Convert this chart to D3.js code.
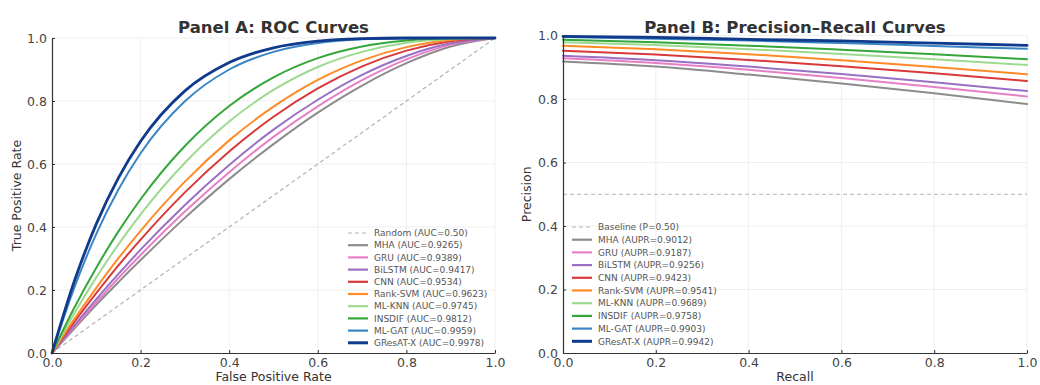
<!DOCTYPE html>
<html>
<head>
<meta charset="utf-8">
<script src="https://cdn.jsdelivr.net/npm/d3@7"></script>
<style>
  body { margin: 0; background: #fff; }
  svg text { font-family: "DejaVu Sans", sans-serif; }
  .tick text { fill: #444; font-size: 12.5px; }
  .tick line { stroke: #333; }
  .domain { stroke: #333; stroke-width: 1.2; }
  .grid line { stroke: #ebebeb; stroke-width: 0.8; }
</style>
</head>
<body>
<div id="chart"></div>
<script>
var models = ["MHA", "GRU", "BiLSTM", "CNN", "Rank-SVM", "ML-KNN", "INSDIF", "ML-GAT", "GResAT-X"]
var aucValues = ["0.9265", "0.9389", "0.9417", "0.9534", "0.9623", "0.9745", "0.9812", "0.9959", "0.9978"]
var auprValues = ["0.9012", "0.9187", "0.9256", "0.9423", "0.9541", "0.9689", "0.9758", "0.9903", "0.9942"]
var axisTicks = [0, 0.2, 0.4, 0.6, 0.8, 1.0]

// ROC points
var rocFpr = [0, 0.05, 0.1, 0.15, 0.2, 0.3, 0.4, 0.5, 0.6, 0.7, 0.8, 0.9, 1.0]
var rocMHA = [0, 0.077, 0.153, 0.225, 0.295, 0.429, 0.552, 0.663, 0.763, 0.849, 0.920, 0.973, 1]
var rocGRU = [0, 0.082, 0.161, 0.238, 0.311, 0.449, 0.574, 0.686, 0.783, 0.866, 0.932, 0.979, 1]
var rocBiLSTM = [0, 0.087, 0.171, 0.251, 0.328, 0.470, 0.597, 0.709, 0.804, 0.883, 0.943, 0.983, 1]
var rocCNN = [0, 0.098, 0.190, 0.278, 0.360, 0.510, 0.640, 0.750, 0.840, 0.910, 0.960, 0.990, 1]
var rocRankSVM = [0, 0.107, 0.207, 0.301, 0.388, 0.544, 0.675, 0.782, 0.867, 0.929, 0.971, 0.994, 1]
var rocMLKNN = [0, 0.125, 0.240, 0.345, 0.440, 0.604, 0.735, 0.835, 0.908, 0.956, 0.985, 0.997, 1]
var rocINSDIF = [0, 0.143, 0.271, 0.386, 0.488, 0.657, 0.784, 0.875, 0.936, 0.973, 0.992, 0.999, 1]
var rocMLGAT = [0, 0.206, 0.378, 0.519, 0.634, 0.799, 0.900, 0.956, 0.984, 0.996, 0.999, 1, 1]
var rocGResATX = [0, 0.226, 0.410, 0.556, 0.672, 0.832, 0.922, 0.969, 0.990, 0.998, 1, 1, 1]

// precision-recall points
var prRecall = [0, 0.2, 0.4, 0.6, 0.8, 1.0]
var prMHA = [0.918, 0.902, 0.877, 0.849, 0.818, 0.784]
var prGRU = [0.928, 0.913, 0.892, 0.866, 0.838, 0.808]
var prBiLSTM = [0.936, 0.922, 0.902, 0.879, 0.853, 0.825]
var prCNN = [0.952, 0.940, 0.923, 0.903, 0.881, 0.857]
var prRankSVM = [0.968, 0.957, 0.941, 0.922, 0.901, 0.878]
var prMLKNN = [0.979, 0.970, 0.957, 0.942, 0.925, 0.907]
var prINSDIF = [0.987, 0.979, 0.968, 0.955, 0.941, 0.925]
var prMLGAT = [0.995, 0.990, 0.984, 0.976, 0.967, 0.958]
var prGResATX = [0.997, 0.994, 0.988, 0.983, 0.976, 0.969]
var prBaseline = 0.5

var rocSeries = [rocMHA, rocGRU, rocBiLSTM, rocCNN, rocRankSVM, rocMLKNN, rocINSDIF, rocMLGAT, rocGResATX]
var prSeries = [prMHA, prGRU, prBiLSTM, prCNN, prRankSVM, prMLKNN, prINSDIF, prMLGAT, prGResATX]

var colors = ["#8c8c8c", "#e77fc6", "#9a70c4", "#d8393a", "#ff8a26", "#9dd98f", "#35a63a", "#3a86c4", "#103a8c"]
var widths = [2, 2, 2, 2, 2, 2, 2, 2, 2.8]

var W = 1040, H = 385

var svg = d3.select("#chart").append("svg")
  .attr("width", W)
  .attr("height", H)

function drawPanel(opts){
  var x = d3.scaleLinear().domain([0, 1]).range([opts.left, opts.right])
  var y = d3.scaleLinear().domain([0, 1]).range([opts.bottom, opts.top])
  var g = svg.append("g")

  // grid
  var grid = g.append("g").attr("class", "grid")
  grid.selectAll(".gx").data(axisTicks.slice(1)).enter().append("line")
    .attr("x1", function(d){ return x(d) }).attr("x2", function(d){ return x(d) })
    .attr("y1", y(0)).attr("y2", y(1))
  grid.selectAll(".gy").data(axisTicks.slice(1)).enter().append("line")
    .attr("x1", x(0)).attr("x2", x(1))
    .attr("y1", function(d){ return y(d) }).attr("y2", function(d){ return y(d) })

  // reference dashed line
  g.append("path")
    .attr("d", d3.line()(opts.refLine.map(function(p){ return [x(p[0]), y(p[1])] })))
    .attr("fill", "none")
    .attr("stroke", "#b3b3b3")
    .attr("stroke-width", 1.2)
    .attr("stroke-dasharray", "4,3")

  var line = d3.line()
    .x(function(d){ return x(d[0]) })
    .y(function(d){ return y(d[1]) })
    .curve(d3.curveMonotoneX)

  opts.series.forEach(function(vals, i){
    g.append("path")
      .attr("d", line(opts.xs.map(function(v, j){ return [v, vals[j]] })))
      .attr("fill", "none")
      .attr("stroke", colors[i])
      .attr("stroke-width", widths[i])
      .attr("stroke-linecap", "round")
  })

  g.append("g")
    .attr("transform", "translate(0," + y(0) + ")")
    .call(d3.axisBottom(x).tickValues(axisTicks).tickFormat(d3.format(".1f")).tickSizeInner(-3).tickSizeOuter(0).tickPadding(5))
  g.append("g")
    .attr("transform", "translate(" + x(0) + ",0)")
    .call(d3.axisLeft(y).tickValues(axisTicks).tickFormat(d3.format(".1f")).tickSizeInner(-3).tickSizeOuter(0).tickPadding(5))

  // title and labels
  g.append("text")
    .attr("x", (opts.left + opts.right) / 2)
    .attr("y", 33)
    .attr("text-anchor", "middle")
    .style("font-size", "16.5px")
    .style("font-weight", "bold")
    .style("fill", "#333")
    .text(opts.title)
  g.append("text")
    .attr("x", (opts.left + opts.right) / 2)
    .attr("y", 381)
    .attr("text-anchor", "middle")
    .style("font-size", "12.5px")
    .style("fill", "#333")
    .text(opts.xLabel)
  g.append("text")
    .attr("transform", "translate(" + opts.yLabelX + "," + ((opts.top + opts.bottom) / 2) + ") rotate(-90)")
    .attr("text-anchor", "middle")
    .style("font-size", "12.5px")
    .style("fill", "#333")
    .text(opts.yLabel)

  // legend
  var leg = g.append("g").attr("transform", "translate(" + opts.legX + "," + opts.legY + ")")
  var entries = [{label: opts.refLabel, color: "#b3b3b3", w: 1.2, dash: "4,3"}]
  models.forEach(function(m, i){
    entries.push({label: m + " (" + opts.metric + "=" + opts.scores[i] + ")", color: colors[i], w: widths[i] + 0.2, dash: null})
  })
  entries.forEach(function(e, i){
    var row = leg.append("g").attr("transform", "translate(0," + (i * opts.legStep) + ")")
    row.append("line")
      .attr("x1", 0).attr("x2", 20)
      .attr("stroke", e.color)
      .attr("stroke-width", e.w)
      .attr("stroke-dasharray", e.dash)
    row.append("text")
      .attr("x", 26).attr("y", 3.2)
      .style("font-size", "9px")
      .style("fill", "#555")
      .text(e.label)
  })
}

drawPanel({
  left: 52, right: 495, top: 38, bottom: 353,
  title: "Panel A: ROC Curves",
  xLabel: "False Positive Rate",
  yLabel: "True Positive Rate",
  yLabelX: 21,
  xs: rocFpr,
  series: rocSeries,
  refLine: [[0, 0], [1, 1]],
  refLabel: "Random (AUC=0.50)",
  metric: "AUC",
  scores: aucValues,
  legX: 348, legY: 233, legStep: 12.2
})

drawPanel({
  left: 563, right: 1027, top: 35.5, bottom: 353,
  title: "Panel B: Precision\u2013Recall Curves",
  xLabel: "Recall",
  yLabel: "Precision",
  yLabelX: 531,
  xs: prRecall,
  series: prSeries,
  refLine: [[0, prBaseline], [1, prBaseline]],
  refLabel: "Baseline (P=0.50)",
  metric: "AUPR",
  scores: auprValues,
  legX: 572, legY: 227, legStep: 12.7
})
</script>
</body>
</html>
